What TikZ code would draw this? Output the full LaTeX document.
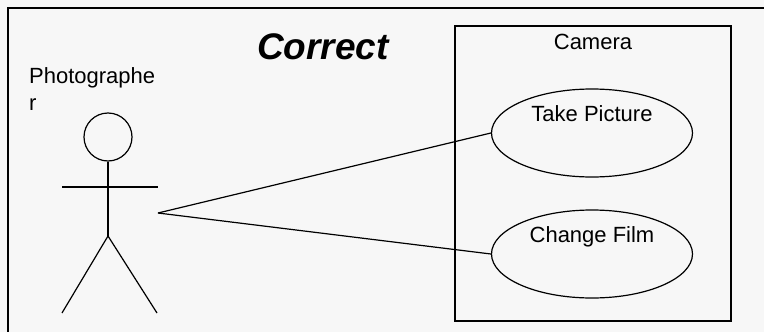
\documentclass[tikz,border=0pt]{standalone}
\usepackage{fontspec}
\setmainfont{Liberation Sans}
\usetikzlibrary{shapes.geometric}
\begin{document}
\begin{tikzpicture}[x=1pt,y=-1pt]
   \tikzstyle{usecase}=[draw,ellipse,line width=1.2pt,minimum width=201pt,minimum height=88pt,inner sep=0pt]
   \tikzstyle{txt}=[font=\fontsize{22}{27}\selectfont,inner sep=0pt]
   \tikzstyle{stick}=[line width=1.2pt]

   \useasboundingbox [fill=gray!6] (0,0) rectangle (764,332);
   \draw [line width=1.5pt] (8,332) -- (8,8) -- (764,8);

   \node (title) [font=\fontsize{37}{40}\selectfont\bfseries\itshape] at (323,47) {Correct};

   % the photographer
   \node (actorname) [txt,align=left,anchor=north west] at (29,67) {Photographe\\r};
   \node (head) [stick,draw,circle,minimum size=48pt,inner sep=0pt] at (108,137) {};
   \draw [stick] (head.south) -- (108,236) coordinate (hip);
   \draw [stick] (62,187) -- (158,187);
   \draw [stick] (62,313) -- (hip) -- (157,313);
   \coordinate (actor) at (158,213);

   % the camera
   \node (camera) [draw,line width=1.2pt,minimum width=276pt,minimum height=295pt,
      label={[txt,anchor=north,yshift=-9pt]north:Camera}] at (593,173.5) {};
   \node (take) [usecase,label={[txt,anchor=north,yshift=-17pt]north:Take Picture}] at (592,133) {};
   \node (film) [usecase,label={[txt,anchor=north,yshift=-17pt]north:Change Film}] at (592,254) {};

   \draw [stick] (actor) -- (take.west);
   \draw [stick] (actor) -- (film.west);
\end{tikzpicture}
\end{document}
